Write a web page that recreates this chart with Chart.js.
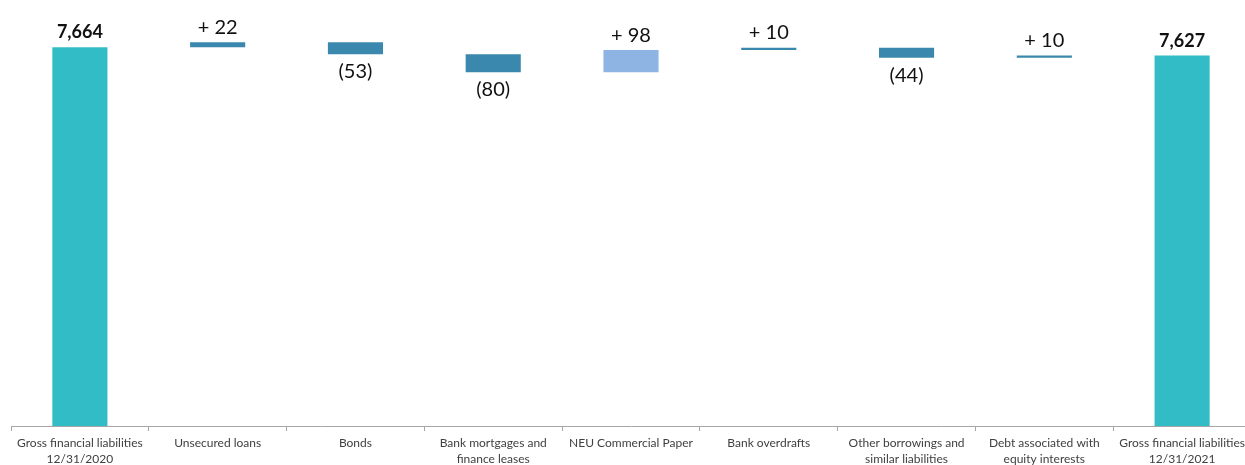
<!DOCTYPE html>
<html>
<head>
<meta charset="utf-8">
<script src="https://cdn.jsdelivr.net/npm/chart.js@4"></script>
<style>
  html, body { margin: 0; padding: 0; background: #fff; overflow: hidden; }
  #wrap { width: 1252px; height: 465px; }
</style>
</head>
<body>
<div id="wrap"><canvas id="chart"></canvas></div>
<script>
const categories = [
  ['Gross financial liabilities', '12/31/2020'],
  'Unsecured loans',
  'Bonds',
  ['Bank mortgages and', 'finance leases'],
  'NEU Commercial Paper',
  'Bank overdrafts',
  ['Other borrowings and', 'similar liabilities'],
  ['Debt associated with', 'equity interests'],
  ['Gross financial liabilities', '12/31/2021']
];
const openingTotal = 7664;
const changes = [22, -53, -80, 98, 10, -44, 10];
const closingTotal = 7627;

const totalColor = '#32bcc5';
const stepColor = '#3a88ad';
const paperColor = '#8eb4e3';

// build floating bars [low, high] from running total
const ranges = [[0, openingTotal]];
const kinds = ['total'];
let running = openingTotal;
changes.forEach(c => {
  ranges.push([running, running + c]);
  kinds.push(c >= 0 ? 'up' : 'down');
  running += c;
});
ranges.push([0, closingTotal]);
kinds.push('total');

const labels = [openingTotal.toLocaleString('en-US')]
  .concat(changes.map(c => c >= 0 ? '+ ' + c : '(' + Math.abs(c) + ')'))
  .concat([closingTotal.toLocaleString('en-US')]);

const colors = kinds.map((k, i) => {
  if (k === 'total') return totalColor;
  if (categories[i] === 'NEU Commercial Paper') return paperColor;
  return stepColor;
});

const valueLabels = {
  id: 'valueLabels',
  afterDatasetsDraw(chart) {
    const ctx = chart.ctx;
    const meta = chart.getDatasetMeta(0);
    ctx.save();
    ctx.fillStyle = '#111';
    ctx.textAlign = 'center';
    ctx.textBaseline = 'alphabetic';
    meta.data.forEach((bar, i) => {
      const top = Math.min(bar.y, bar.base);
      const bottom = Math.max(bar.y, bar.base);
      if (kinds[i] === 'total') {
        ctx.font = 'bold 18px Lato';
        ctx.fillText(labels[i], bar.x, top - 9);
      } else if (kinds[i] === 'up') {
        ctx.font = '20px Lato';
        ctx.fillText(labels[i], bar.x, top - 8.5);
      } else {
        ctx.font = '20px Lato';
        ctx.fillText(labels[i], bar.x, bottom + 24);
      }
    });
    ctx.restore();
  }
};

new Chart(document.getElementById('chart'), {
  type: 'bar',
  data: {
    labels: categories,
    datasets: [{
      data: ranges,
      backgroundColor: colors,
      borderWidth: 0,
      barPercentage: 1,
      categoryPercentage: 0.4,
      borderSkipped: false
    }]
  },
  options: {
    responsive: true,
    maintainAspectRatio: false,
    animation: false,
    layout: { padding: { left: 11, right: 1, top: 0, bottom: 0 } },
    plugins: {
      legend: { display: false },
      tooltip: { enabled: false }
    },
    scales: {
      x: {
        grid: {
          offset: true,
          drawOnChartArea: false,
          drawTicks: true,
          tickLength: 5,
          color: '#a6a6a6'
        },
        border: { color: '#a6a6a6', width: 1 },
        ticks: {
          color: '#404040',
          font: { family: 'Lato', size: 12, lineHeight: 1.35 },
          padding: 4,
          maxRotation: 0,
          autoSkip: false
        },
        afterFit(scale) { scale.height = 39; }
      },
      y: {
        display: false,
        min: 5985,
        max: 7873
      }
    }
  },
  plugins: [valueLabels]
});
</script>
</body>
</html>
